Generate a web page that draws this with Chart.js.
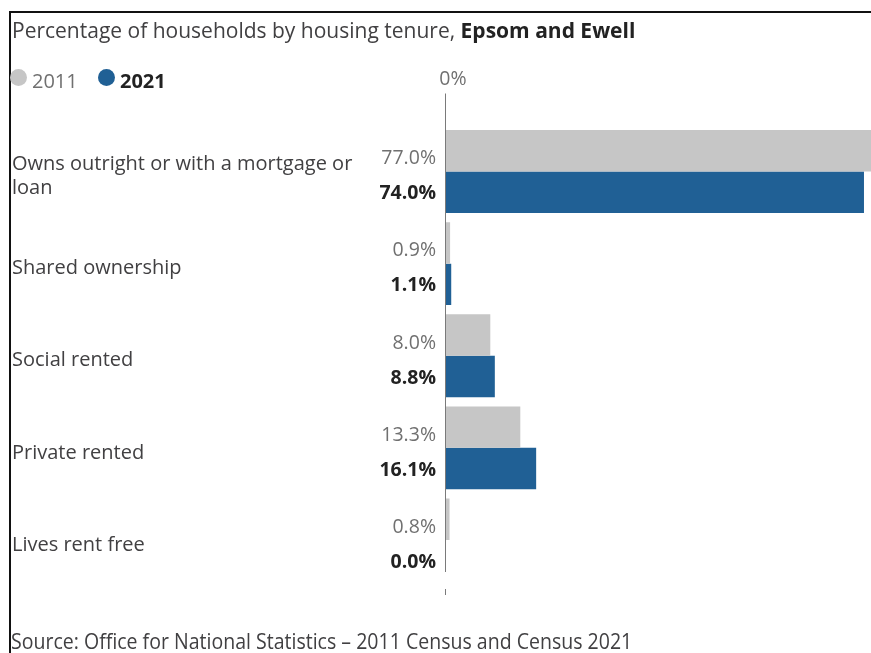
<!DOCTYPE html>
<html>
<head>
<meta charset="utf-8">
<title>Housing tenure, Epsom and Ewell</title>
<script src="https://cdn.jsdelivr.net/npm/chart.js@4.4.1/dist/chart.umd.min.js"></script>
<style>
  html, body { margin: 0; padding: 0; background: #fff; }
  body { width: 871px; height: 653px; position: relative; overflow: hidden; font-family: "Open Sans", sans-serif; }
  #frame { position: absolute; left: 9px; top: 11px; right: -10px; bottom: -10px; border-top: 2px solid #111; border-left: 2px solid #111; }
  #chart { position: absolute; left: 0; top: 0; }
  .txt { position: absolute; left: 12px; font-size: 20px; line-height: 20px; white-space: nowrap; color: #414042; }
  #title { top: 20px; font-size: 21px; }
  #title b { color: #222; }
  #legend { top: 71px; left: 0; }
  .key { position: absolute; top: -2px; width: 17px; height: 17px; border-radius: 50%; }
  .lbl { position: absolute; top: 0; }
  #source { top: 631px; left: 11px; font-size: 21px; transform: scaleX(0.93); transform-origin: 0 0; }
</style>
</head>
<body>
<canvas id="chart" width="871" height="653"></canvas>
<div id="frame"></div>
<div class="txt" id="title">Percentage of households by housing tenure, <b>Epsom and Ewell</b></div>
<div class="txt" id="legend">
  <span class="key" style="left:10px;background:#c6c6c6"></span><span class="lbl" style="left:32px;color:#707070">2011</span>
  <span class="key" style="left:98px;background:#206095"></span><span class="lbl" style="left:120px;color:#222;font-weight:bold">2021</span>
</div>
<div class="txt" id="source">Source: Office for National Statistics – 2011 Census and Census 2021</div>

<script>
const categories = [
    ['Owns outright or with a mortgage or', 'loan'],
    'Shared ownership',
    'Social rented',
    'Private rented',
    'Lives rent free'
];
const values2011 = [77.0, 0.9, 8.0, 13.3, 0.8];
const values2021 = [74.0, 1.1, 8.8, 16.1, 0.0];
const xTicks = [0];

const grey = '#c6c6c6';
const blue = '#206095';

// zero line plus the value labels to the left of each bar
const valueLabels = {
    id: 'valueLabels',
    afterDatasetsDraw(chart) {
        const ctx = chart.ctx;
        const x0 = chart.scales.x.getPixelForValue(0);
        const area = chart.chartArea;
        ctx.save();
        ctx.strokeStyle = '#7a7a7a';
        ctx.lineWidth = 1;
        ctx.beginPath();
        ctx.moveTo(Math.round(x0) + 0.5, area.top - 32);
        ctx.lineTo(Math.round(x0) + 0.5, area.bottom - 14);
        ctx.moveTo(Math.round(x0) + 0.5, area.bottom + 3);
        ctx.lineTo(Math.round(x0) + 0.5, area.bottom + 9);
        ctx.stroke();

        ctx.textAlign = 'right';
        ctx.textBaseline = 'middle';
        chart.data.datasets.forEach((ds, i) => {
            const meta = chart.getDatasetMeta(i);
            const bold = i === 1;
            ctx.font = (bold ? 'bold ' : '') + '19.5px "Open Sans"';
            ctx.fillStyle = bold ? '#222' : '#707070';
            meta.data.forEach((bar, j) => {
                const dy = bold ? 1.5 : 8;
                ctx.fillText(ds.data[j].toFixed(1) + '%', x0 - 9, bar.y + dy);
            });
        });
        ctx.restore();
    }
};

new Chart(document.getElementById('chart'), {
    type: 'bar',
    data: {
        labels: categories,
        datasets: [
            { label: '2011', data: values2011, backgroundColor: grey },
            { label: '2021', data: values2021, backgroundColor: blue }
        ]
    },
    options: {
        indexAxis: 'y',
        responsive: false,
        animation: false,
        layout: { padding: { left: 12, top: 0, right: 0, bottom: 67 } },
        datasets: { bar: { categoryPercentage: 0.9, barPercentage: 1 } },
        plugins: {
            legend: { display: false },
            tooltip: { enabled: false }
        },
        scales: {
            x: {
                position: 'top',
                min: 0,
                max: 75.24,
                grid: { display: false, drawTicks: false },
                border: { display: false },
                afterBuildTicks: s => { s.ticks = xTicks.map(v => ({ value: v })); },
                afterFit: s => { s.height = 125.5; },
                ticks: {
                    callback: v => v + '%',
                    color: '#707070',
                    font: { family: 'Open Sans', size: 19.5 },
                    padding: 34.5,
                    labelOffset: 8
                }
            },
            y: {
                grid: { display: false, drawTicks: false },
                border: { display: false },
                afterFit: s => { s.width = 445 - 12; },
                ticks: {
                    crossAlign: 'far',
                    color: '#414042',
                    font: { family: 'Open Sans', size: 20, lineHeight: 1.2 },
                    labelOffset: 5
                }
            }
        }
    },
    plugins: [valueLabels]
});
</script>
</body>
</html>
